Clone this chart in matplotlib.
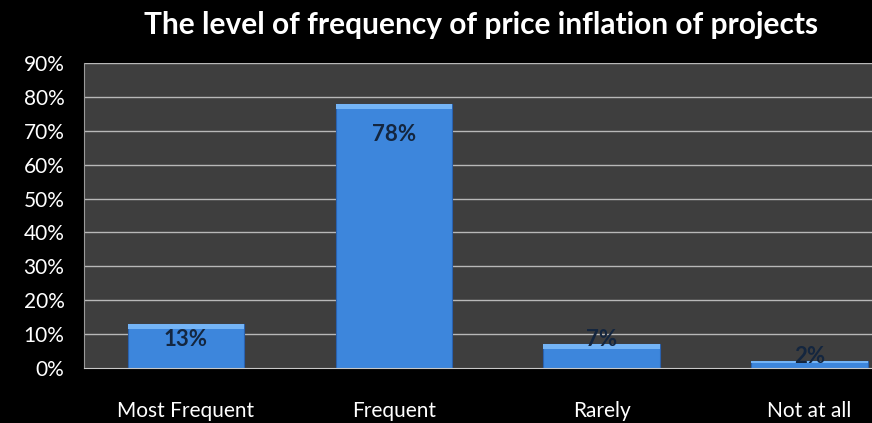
import matplotlib.pyplot as plt
import numpy as np

categories = ['Most Frequent', 'Frequent', 'Rarely', 'Not at all']
values = [13, 78, 7, 2]
labels = ['13%', '78%', '7%', '2%']
yticks = [0, 10, 20, 30, 40, 50, 60, 70, 80, 90]

plt.rcParams['font.family'] = ['Lato', 'DejaVu Sans']

fig = plt.figure(figsize=(8.72, 4.23), dpi=100)
fig.patch.set_facecolor('black')
ax = fig.add_axes([0.0963, 0.130, 0.9037, 0.721])
ax.set_facecolor('#3e3e3e')

x = np.arange(len(categories))
ax.set_xlim(-0.49, 3.30)
ax.set_ylim(0, 90)

# gridlines
for t in yticks[1:]:
    ax.axhline(t, color='#b8b8b8', lw=1.0, zorder=1)

# bars with a light top band
bars = ax.bar(x, values, width=0.56, color='#3d86dc', edgecolor='#2a62b0', lw=0.8, zorder=2)
for b in bars:
    h = b.get_height()
    band = min(1.5, h * 0.3)
    ax.bar(b.get_x() + b.get_width() / 2, band, bottom=h - band, width=b.get_width(),
           color='#74b4f6', lw=0, zorder=3)

# value labels
for xi, v, lab in zip(x, values, labels):
    yc = v - min(9, 0.36 * v) if v >= 10 else v + 1.3
    ax.text(xi, yc, lab, ha='center', va='center', fontsize=16, fontweight='bold',
            color='#14263f', zorder=4)

ax.set_yticks(yticks)
ax.set_yticklabels([f'{t}%' for t in yticks], color='white', fontsize=15)
ax.set_xticks(x)
ax.set_xticklabels(categories, color='white', fontsize=15)
ax.tick_params(axis='both', length=0)
ax.tick_params(axis='x', pad=24)
ax.tick_params(axis='y', pad=14)

for s in ['top', 'right']:
    ax.spines[s].set_visible(False)
ax.spines['left'].set_color('#9a9a9a')
ax.spines['bottom'].set_color('#c8c8c8')

fig.text(0.552, 0.94, 'The level of frequency of price inflation of projects', ha='center', va='center',
         color='white', fontsize=21.5, fontweight='bold')

fig.savefig('out.png', dpi=100, facecolor='black')
